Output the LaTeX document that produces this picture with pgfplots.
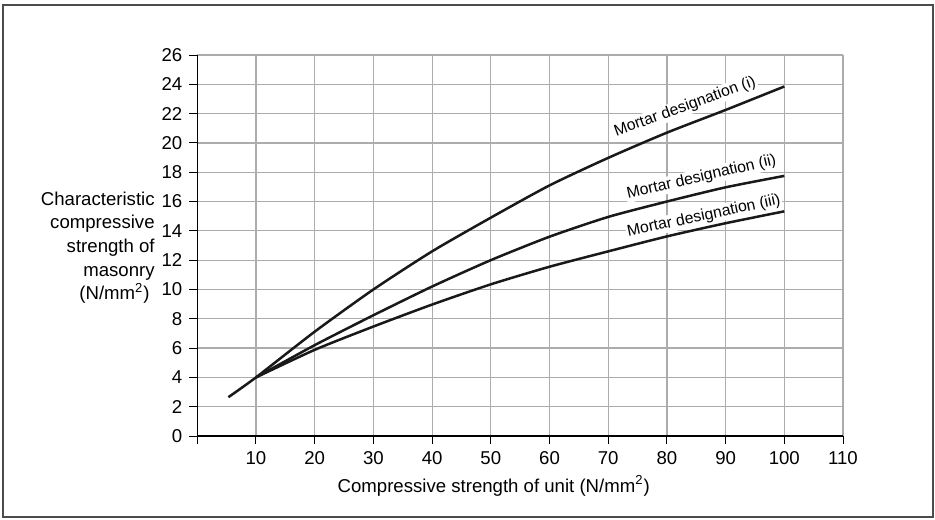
\documentclass[border=0pt]{standalone}
\usepackage{pgfplots}
\pgfplotsset{compat=1.18}
\usepackage{fontspec}
\setmainfont{Liberation Sans}

\newcommand{\chartfont}{\fontsize{9.3}{11.8}\selectfont}
\newcommand{\curvefont}{\fontsize{7.9}{9.5}\selectfont}

\begin{document}
\begin{tikzpicture}
% page = whole reference image, 0.5pt per pixel
\useasboundingbox (-98.65pt,-41.5pt) rectangle (368.85pt,218pt);
\draw[black!70, line width=0.8pt] (-97.15pt,-40.5pt) rectangle (367.85pt,215.5pt);

\begin{axis}[
    at={(0,0)}, anchor=south west,
    scale only axis,
    width=322.85pt,
    height=190.5pt,
    xmin=0, xmax=110,
    ymin=0, ymax=26,
    xtick={0,10,...,110},
    xticklabels={,10,20,30,40,50,60,70,80,90,100,110},
    ytick={0,2,...,26},
    axis lines=left,
    axis line style={-, black, line width=0.7pt},
    tick align=outside,
    major tick length=4pt,
    tick style={black, line width=0.5pt},
    grid=major,
    major grid style={gray!65, line width=0.6pt},
    font=\chartfont,
    tick label style={font=\chartfont},
    /pgf/number format/assume math mode=true,
    clip=false,
]

% Mortar designation (i)
\addplot[black!90, line width=1.25pt, smooth, tension=0.4] coordinates {
    (5.3,2.65) (10,4.0) (20,7.12) (30,10.0) (40,12.6) (50,14.9)
    (60,17.1) (70,18.98) (80,20.7) (90,22.25) (100,23.85)
};

% Mortar designation (ii)
\addplot[black!90, line width=1.25pt, smooth, tension=0.4] coordinates {
    (10,4.0) (20,6.2) (30,8.24) (40,10.2) (50,12.0)
    (60,13.6) (70,14.95) (80,16.0) (90,16.97) (100,17.75)
};

% Mortar designation (iii)
\addplot[black!90, line width=1.25pt, smooth, tension=0.4] coordinates {
    (10,4.0) (20,5.88) (30,7.47) (40,8.97) (50,10.35)
    (60,11.55) (70,12.6) (80,13.62) (90,14.52) (100,15.33)
};

\node[rotate=20, fill=white, inner sep=0.6pt, font=\curvefont] at (axis cs:83.1,22.45) {Mortar designation (i)};
\node[rotate=13, fill=white, inner sep=0.6pt, font=\curvefont] at (axis cs:85.9,17.65) {Mortar designation (ii)};
\node[rotate=12, fill=white, inner sep=0.6pt, font=\curvefont] at (axis cs:86.3,15.0) {Mortar designation (iii)};

\node[anchor=east, align=right, inner sep=0pt] at (axis cs:-7.2,12.85)
    {Characteristic\\compressive\\strength of\\masonry\\(N/mm\textsuperscript{2})\kern2.5pt};
\node at (axis cs:50.5,0) [yshift=-25pt] {Compressive strength of unit (N/mm\textsuperscript{2})};
\end{axis}
\end{tikzpicture}
\end{document}
